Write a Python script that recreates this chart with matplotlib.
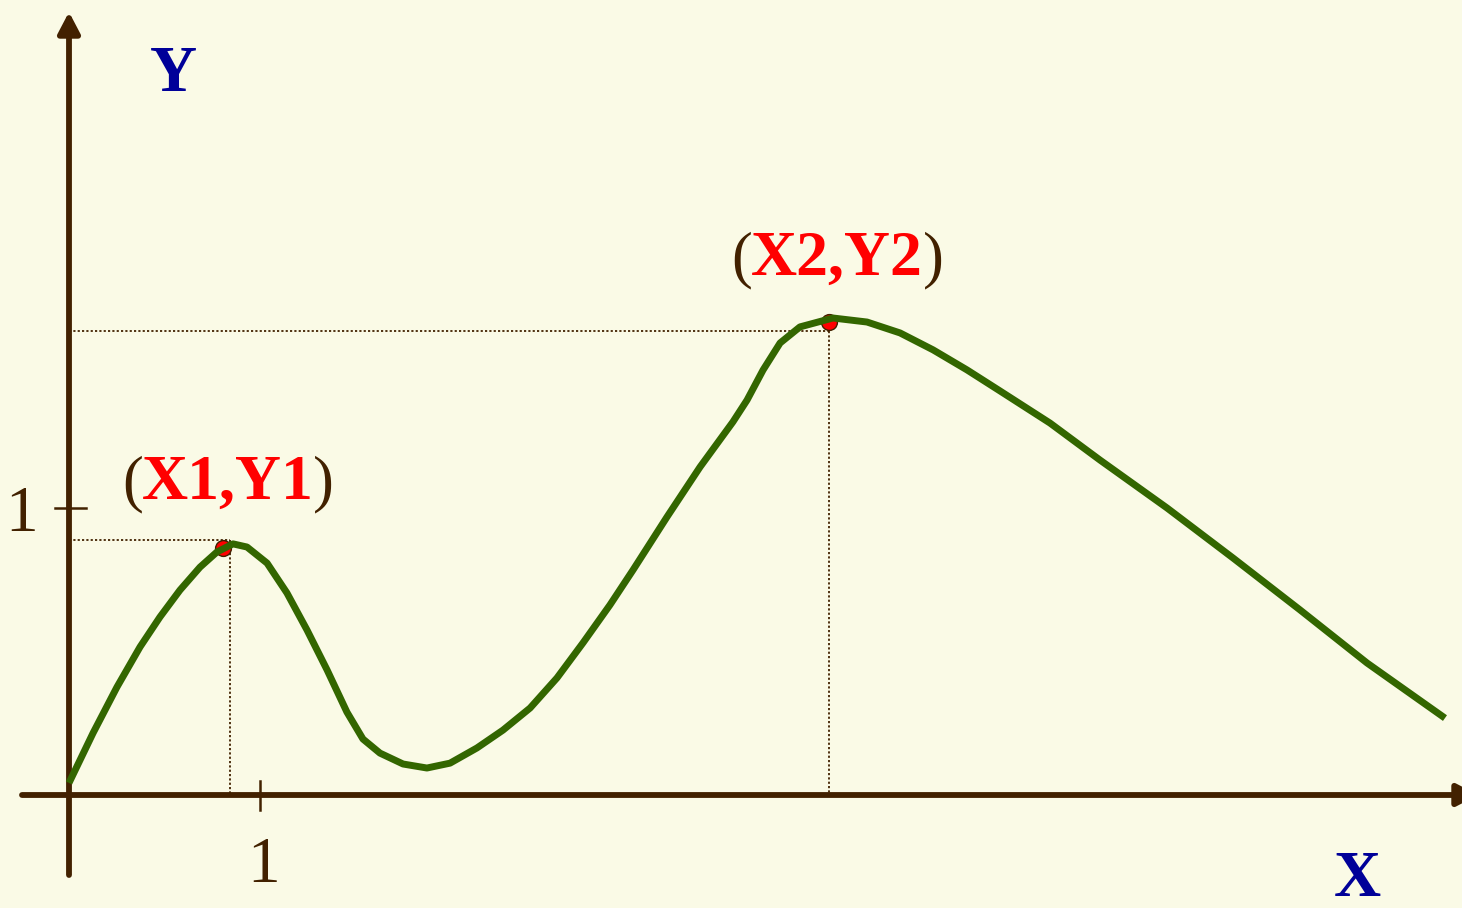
import matplotlib
matplotlib.use("Agg")
import matplotlib.pyplot as plt
from matplotlib.patches import ArrowStyle

# ---- data (axis units: tick "1" on each axis = 1) ----
curve_x = [0.000, 0.126, 0.251, 0.372, 0.476, 0.581, 0.686, 0.775, 0.859, 0.932,
           1.037, 1.141, 1.246, 1.351, 1.455, 1.539, 1.628, 1.749, 1.874, 1.995,
           2.136, 2.272, 2.414, 2.555, 2.691, 2.832, 2.953, 3.131, 3.304, 3.476,
           3.550, 3.634, 3.723, 3.827, 4.000, 4.178, 4.351, 4.524, 4.702, 4.874,
           5.136, 5.398, 5.749, 6.094, 6.445, 6.796, 7.204]
curve_y = [0.042, 0.216, 0.376, 0.516, 0.620, 0.714, 0.794, 0.847, 0.875, 0.864,
           0.808, 0.704, 0.575, 0.436, 0.289, 0.195, 0.146, 0.108, 0.094, 0.111,
           0.164, 0.226, 0.303, 0.408, 0.530, 0.662, 0.784, 0.969, 1.143, 1.300,
           1.376, 1.481, 1.575, 1.631, 1.662, 1.648, 1.610, 1.551, 1.481, 1.408,
           1.296, 1.167, 1.000, 0.826, 0.645, 0.460, 0.268]
point_x = [0.804, 3.979]
point_y = [0.861, 1.648]
guide_x = [0.843, 3.979]
guide_y = [0.889, 1.617]
point_labels = ["X1,Y1", "X2,Y2"]
tick_label = "1"

W, H, DPI = 1462, 908, 100
XU, YU = 191.0, 287.0     # pixels per unit
OX, OY = 69.0, 795.0      # origin pixel

BG = "#FAFAE6"
BROWN = "#422100"
GREEN = "#336600"
RED = "#FF0000"
BLUE = "#000099"
SERIF = ["Liberation Serif", "DejaVu Serif"]

fig = plt.figure(figsize=(W / DPI, H / DPI), dpi=DPI, facecolor=BG)
ax = fig.add_axes([0, 0, 1, 1])
ax.set_facecolor(BG)
ax.set_xlim(-OX / XU, (W - OX) / XU)
ax.set_ylim(-(H - OY) / YU, OY / YU)
ax.axis("off")

def px(x, y):
    return x / W, 1 - y / H

astyle = ArrowStyle("-|>", head_length=0.42, head_width=0.22)
# y axis
ax.annotate("", xy=(0, (OY - 12) / YU), xytext=(0, -(875 - OY) / YU),
            arrowprops=dict(arrowstyle=astyle, lw=4.2, color=BROWN,
                            mutation_scale=30, shrinkA=0, shrinkB=0))
# x axis (arrow head runs off the right edge)
ax.annotate("", xy=((1478 - OX) / XU, 0), xytext=(-(OX - 22) / XU, 0),
            arrowprops=dict(arrowstyle=astyle, lw=4.2, color=BROWN,
                            mutation_scale=30, shrinkA=0, shrinkB=0),
            annotation_clip=False)
# ticks
ax.plot([-14 / XU, 17 / XU], [1, 1], color=BROWN, lw=1.8)
ax.plot([1, 1], [-15 / YU, 14 / YU], color=BROWN, lw=1.8)

# dotted guides
for gx, gy in zip(guide_x, guide_y):
    ax.plot([0, gx], [gy, gy], color=BROWN, lw=1.3, ls=(0, (1.2, 1.2)))
    ax.plot([gx, gx], [gy, 0], color=BROWN, lw=1.3, ls=(0, (1.2, 1.2)))

# curve
ax.plot(curve_x, curve_y, color=GREEN, lw=5.0, solid_capstyle="butt",
        solid_joinstyle="round", zorder=4)
# points
ax.scatter(point_x, point_y, s=130, color=RED, edgecolor=BROWN, linewidth=1.0,
           zorder=3)

# labels
fig.text(*px(22, 531), tick_label, fontsize=47, family=SERIF, color=BROWN,
         ha="center", va="baseline")
fig.text(*px(264, 882), tick_label, fontsize=47, family=SERIF, color=BROWN,
         ha="center", va="baseline")
fig.text(*px(173, 91), "Y", fontsize=47, family=SERIF, weight="bold",
         color=BLUE, ha="center", va="baseline")
fig.text(*px(1357, 896), "X", fontsize=47, family=SERIF, weight="bold",
         color=BLUE, ha="center", va="baseline")

label_pos = [(123, 227.5, 333, 499), (732, 837, 943, 275)]
for lab, (lx, cx, rx, by) in zip(point_labels, label_pos):
    fig.text(*px(lx - 1, by), "(", fontsize=45, family=SERIF, color=BROWN,
             ha="left", va="baseline")
    fig.text(*px(cx, by), lab, fontsize=46, family=SERIF, weight="bold",
             color=RED, ha="center", va="baseline")
    fig.text(*px(rx + 1, by), ")", fontsize=45, family=SERIF, color=BROWN,
             ha="right", va="baseline")

fig.savefig("out.png", dpi=DPI, facecolor=BG)
